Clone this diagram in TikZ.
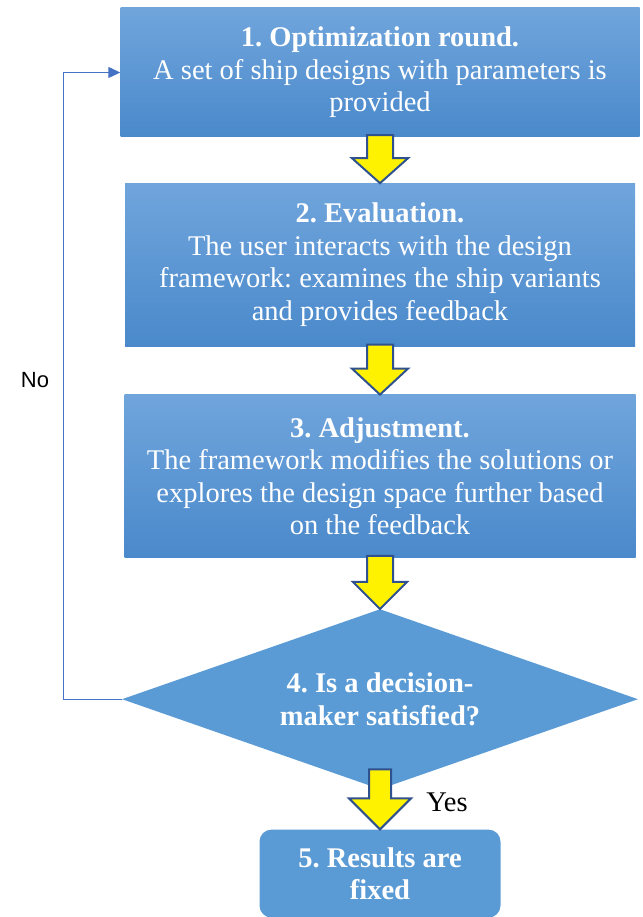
\documentclass[tikz,border=0pt]{standalone}
\usepackage{fontspec}
\setmainfont{Liberation Serif}
\newfontfamily\labelsans{Liberation Sans}
\usepackage{xcolor}
\usepackage{tikz}
\usetikzlibrary{arrows.meta,positioning,shapes.geometric,calc}
\definecolor{boxtop}{HTML}{70A5DC}
\definecolor{boxbottom}{HTML}{4A89CB}
\definecolor{boxflat}{HTML}{5B9BD5}
\definecolor{loopblue}{HTML}{4472C4}
\definecolor{arrowedge}{HTML}{2F528F}
\frenchspacing

\begin{document}
\begin{tikzpicture}[
  x=1pt,y=1pt,
  stage/.style={top color=boxtop,bottom color=boxbottom,draw=none,
    text=white,align=center,inner sep=0pt,
    font=\fontsize{28.5}{32.5}\selectfont},
  decision/.style={diamond,aspect=2.87,fill=boxflat,text=white,align=center,
    inner sep=0pt,minimum width=516pt,minimum height=180pt,
    font=\fontsize{28.5}{32.5}\selectfont\bfseries},
  result/.style={rounded corners=12pt,fill=boxflat,text=white,align=center,
    minimum width=241pt,minimum height=88pt,inner sep=0pt,
    font=\fontsize{28.5}{32.5}\selectfont\bfseries},
  fatarrow/.style={fill=yellow,draw=arrowedge,line width=2pt,line join=miter},
  loop/.style={-{Triangle[length=12pt,width=11pt]},draw=loopblue,line width=1.2pt}
]
\useasboundingbox (0,0) rectangle (642,917);
\node[stage,minimum width=519pt,minimum height=129pt] (opt) at (380,844.5)
  {\textbf{1. Optimization round.}\\A set of ship designs with parameters is\\provided};
\node[stage,minimum width=510pt,minimum height=163pt,below=46pt of opt] (eval)
  {\textbf{2. Evaluation.}\\The user interacts with the design\\framework: examines the ship variants\\and provides feedback};
\node[stage,minimum width=511pt,minimum height=163pt,below=48pt of eval] (adj)
  {\textbf{3. Adjustment.}\\The framework modifies the solutions or\\explores the design space further based\\on the feedback};
\node[decision,below=51pt of adj] (dec) {4. Is a decision-\\maker satisfied?};
\node[result,below=40pt of dec] (res) {5. Results are\\fixed};
\node[font=\labelsans\fontsize{22}{26}\selectfont] (no) at (35,537) {No};
\node[font=\fontsize{28.5}{32.5}\selectfont] (yes) at (447,115) {Yes};
% yellow block arrows
\path[fatarrow] let \p1=(opt.south), \p2=(eval.north) in
  (\x1-13pt,\y1+2pt) -- (\x1+13pt,\y1+2pt) -- (\x1+13pt,\y2+25pt) -- (\x1+28pt,\y2+25pt)
  -- (\x1,\y2) -- (\x1-28pt,\y2+25pt) -- (\x1-13pt,\y2+25pt) -- cycle;
\path[fatarrow] let \p1=(eval.south), \p2=(adj.north) in
  (\x1-13pt,\y1+2pt) -- (\x1+13pt,\y1+2pt) -- (\x1+13pt,\y2+26pt) -- (\x1+28pt,\y2+26pt)
  -- (\x1,\y2) -- (\x1-28pt,\y2+26pt) -- (\x1-13pt,\y2+26pt) -- cycle;
\path[fatarrow] let \p1=(adj.south), \p2=(dec.north) in
  (\x1-13pt,\y1+2pt) -- (\x1+13pt,\y1+2pt) -- (\x1+13pt,\y2+27pt) -- (\x1+27pt,\y2+27pt)
  -- (\x1,\y2) -- (\x1-27pt,\y2+27pt) -- (\x1-13pt,\y2+27pt) -- cycle;
\path[fatarrow] let \p1=(dec.south), \p2=(res.north) in
  (\x1-11pt,\y1+20pt) -- (\x1+11pt,\y1+20pt) -- (\x1+11pt,\y2+31pt) -- (\x1+31pt,\y2+31pt)
  -- (\x1,\y2) -- (\x1-31pt,\y2+31pt) -- (\x1-11pt,\y2+31pt) -- cycle;
% feedback loop
\draw[loop] (dec.west) -- ++(-58,0) |- (opt.west);
\end{tikzpicture}
\end{document}
